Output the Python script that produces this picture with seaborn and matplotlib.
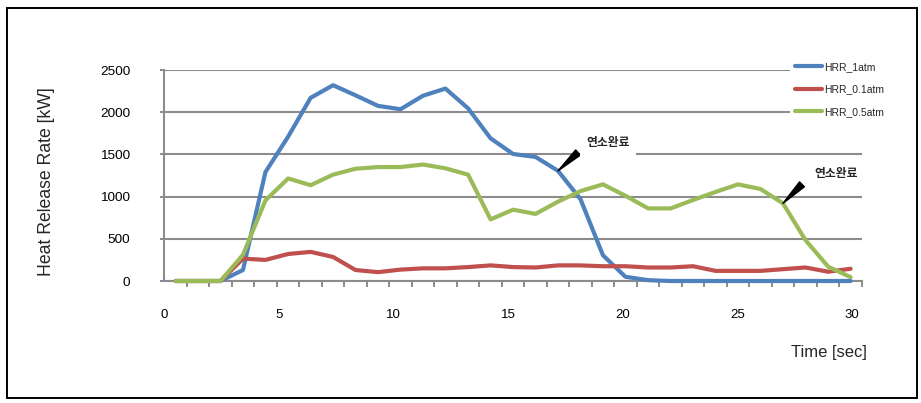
import numpy as np
import pandas as pd
import matplotlib
matplotlib.use("Agg")
import matplotlib.pyplot as plt
from matplotlib.patches import Rectangle
import seaborn as sns

# ---- data ----
time_s = [0.49, 1.47, 2.45, 3.43, 4.41, 5.40, 6.38, 7.36, 8.34, 9.32,
          10.30, 11.28, 12.26, 13.25, 14.23, 15.21, 16.19, 17.17, 18.15, 19.13,
          20.11, 21.10, 22.08, 23.06, 24.04, 25.02, 26.00, 26.98, 27.96, 28.95, 29.93]
hrr_1atm = [0, 0, 0, 130, 1290, 1710, 2170, 2320, 2200, 2075,
            2035, 2195, 2280, 2045, 1690, 1505, 1470, 1305, 970, 305,
            50, 10, 0, 0, 0, 0, 0, 0, 0, 0, 0]
hrr_01atm = [0, 0, 0, 265, 250, 320, 345, 285, 130, 105,
             135, 150, 150, 165, 185, 165, 160, 185, 185, 175,
             175, 160, 160, 175, 120, 120, 120, 140, 160, 110, 145]
hrr_05atm = [0, 0, 0, 310, 955, 1215, 1135, 1260, 1330, 1350,
             1350, 1380, 1335, 1260, 730, 845, 795, 940, 1065, 1145,
             1010, 860, 860, 960, 1055, 1145, 1090, 920, 485, 170, 45]
series_names = ["HRR_1atm", "HRR_0.1atm", "HRR_0.5atm"]
series_colors = ["#4F81BD", "#C0504D", "#9BBB59"]
x_tick_labels = [0, 5, 10, 15, 20, 25, 30]
y_ticks = [0, 500, 1000, 1500, 2000, 2500]
note_text = "연소완료"

df = pd.concat([
    pd.DataFrame({"time": time_s, "HRR": vals, "series": name})
    for name, vals in zip(series_names, [hrr_1atm, hrr_01atm, hrr_05atm])
], ignore_index=True)

sns.set_style("white")
plt.rcParams["font.family"] = ["Liberation Sans", "Noto Sans CJK KR", "DejaVu Sans"]

W, H = 921, 403
fig = plt.figure(figsize=(W / 100, H / 100), dpi=100)
fig.patch.set_facecolor("white")
ax = fig.add_axes([164.3 / W, (H - 281) / H, 698 / W, 211 / H])

grid_c = "#8c8c8c"
sns.lineplot(data=df, x="time", y="HRR", hue="series", hue_order=series_names,
             palette=series_colors, linewidth=3.0, ax=ax, legend=True, zorder=3,
             clip_on=False)

ax.set_xlim(0, 30.44)
ax.set_ylim(0, 2500)
ax.set_xlabel("")
ax.set_ylabel("")

# grid and spines
ax.set_yticks(y_ticks)
ax.set_yticklabels([str(v) for v in y_ticks])
ax.yaxis.grid(True, color=grid_c, linewidth=1.5)
ax.xaxis.grid(False)
ax.set_axisbelow(True)
for s in ["top", "right"]:
    ax.spines[s].set_visible(False)
for s in ["left", "bottom"]:
    ax.spines[s].set_color(grid_c)
    ax.spines[s].set_linewidth(1.5)

ax.set_xticks(x_tick_labels)
ax.set_xticklabels([str(v) for v in x_tick_labels])
ax.set_xticks(np.arange(32) * 0.9813, minor=True)
ax.tick_params(axis="x", which="major", length=0, pad=20, labelsize=9.5, labelcolor="black")
ax.tick_params(axis="x", which="minor", length=4, width=1.4, color=grid_c, direction="out")
ax.tick_params(axis="y", which="major", length=3, width=1.4, color=grid_c, direction="out",
               pad=21.6, labelsize=9.7, labelcolor="black")
ax.tick_params(left=True, bottom=True)
ax.xaxis.set_tick_params(which="minor", bottom=True)

# legend
handles, labels = ax.get_legend_handles_labels()
leg = ax.legend(handles, labels, loc="upper left",
                bbox_to_anchor=(790 / W, 1 - 56.5 / H), bbox_transform=fig.transFigure,
                frameon=True, facecolor="white", edgecolor="none", fancybox=False,
                framealpha=1, fontsize=7.5, handlelength=2.6, handletextpad=0.15,
                labelspacing=1.2, borderpad=0.5, borderaxespad=0)
for lh in leg.get_lines():
    lh.set_linewidth(3.0)

# annotations
ax.annotate("", xy=(time_s[17], hrr_1atm[17]), xytext=(14.4, 13.2),
            textcoords="offset points",
            arrowprops=dict(arrowstyle="wedge,tail_width=0.5", color="black",
                            shrinkA=0, shrinkB=0, mutation_scale=10))
ax.annotate("", xy=(time_s[27], hrr_05atm[27]), xytext=(13.7, 13.7),
            textcoords="offset points",
            arrowprops=dict(arrowstyle="wedge,tail_width=0.5", color="black",
                            shrinkA=0, shrinkB=0, mutation_scale=10))
ax.text(19.35, 1639, note_text, ha="center", va="center", fontsize=8.5,
        fontweight="bold", family=["Noto Sans CJK KR", "DejaVu Sans"], zorder=6,
        bbox=dict(facecolor="white", edgecolor="none", boxstyle="square,pad=0.55"))
ax.text(29.29, 1276, note_text, ha="center", va="center", fontsize=8.5,
        fontweight="bold", family=["Noto Sans CJK KR", "DejaVu Sans"], zorder=6,
        clip_on=False)

# axis titles
fig.text(867 / W, 1 - 353 / H, "Time [sec]", ha="right", va="center", fontsize=12)
fig.text(46.7 / W, 1 - 181.7 / H, "Heat Release Rate [kW]", rotation=90,
         ha="center", va="center", fontsize=12.7)

# outer border
fig.add_artist(Rectangle((7 / W, 1 - 398 / H), (917 - 7) / W, (398 - 8) / H,
                         transform=fig.transFigure, fill=False, edgecolor="black",
                         linewidth=1.4))

fig.savefig("out.png", dpi=100, facecolor="white")
